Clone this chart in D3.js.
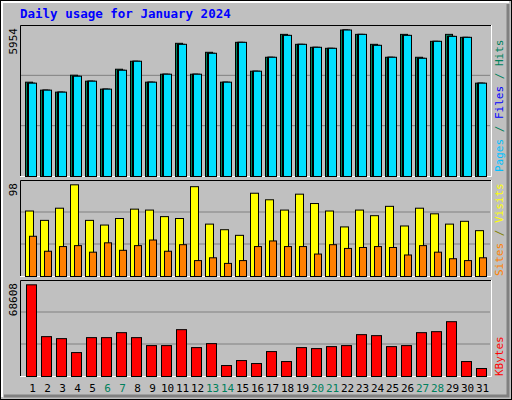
<!DOCTYPE html><html><head><meta charset="utf-8">
<script src="https://cdn.jsdelivr.net/npm/d3@7"></script>
<style>body{margin:0;background:#fff}</style></head><body>
<script>
const days=d3.range(1,32);
const weekends=[6,7,13,14,20,21,27,28];
const hits=[3834,3510,3429,4118,3875,3551,4361,4685,3834,4158,5414,4158,5049,3834,5454,4280,4847,5778,5373,5252,5211,5954,5778,5373,4847,5778,4847,5495,5778,5657,3794];
const files=[3794,3510,3429,4077,3875,3551,4320,4685,3834,4158,5373,4158,5009,3834,5454,4280,4847,5738,5373,5252,5211,5954,5778,5333,4847,5738,4806,5495,5697,5657,3794];
const pages=files.slice();
const visits=[70,60,73,98,60,55,62,72,71,64,62,96,56,50,44,89,82,71,88,78,70,53,71,65,75,54,73,67,56,59,49];
const sites=[43,27,32,33,26,36,28,33,39,27,34,17,20,14,17,32,38,32,32,24,34,30,31,32,31,23,33,26,19,17,20];
const kbytes=[68608,29830,28340,17900,29090,29090,32810,29090,23120,23120,35050,21630,24610,8200,11930,9700,18650,11190,21630,20880,22370,23120,31320,30580,22370,23120,32810,33560,41020,11190,5970];
const maxLabels=["5954","98","68608"];

const svg=d3.select("body").append("svg").attr("width",512).attr("height",400);
svg.append("rect").attr("x",0).attr("y",0).attr("width",512).attr("height",400).attr("fill","#c0c0c0");
svg.append("rect").attr("x",0.5).attr("y",0.5).attr("width",511).attr("height",399).attr("fill","none").attr("stroke","#000");
svg.append("path").attr("d","M2,397V2H509").attr("stroke","#fff").attr("stroke-width",2).attr("fill","none");
svg.append("path").attr("d","M4,396H508V4").attr("stroke","#808080").attr("stroke-width",3).attr("fill","none");
svg.append("text").attr("x",20).attr("y",18).text("Daily usage for January 2024")
 .attr("font-family","DejaVu Sans Mono").attr("font-weight","bold").attr("font-size",12.5).attr("fill","#0000ff");

const x=d3.scaleBand().domain(days).range([22,487]).paddingInner(0);
const mono="DejaVu Sans Mono";
function panel(top,bottom,max,label){
  svg.append("rect").attr("x",20).attr("y",top).attr("width",471).attr("height",bottom-top).attr("fill","#c0c0c0");
  const h=bottom-top;
  [1,2].forEach(k=>svg.append("line").attr("x1",21).attr("x2",490).attr("y1",top+h*k/3).attr("y2",top+h*k/3).attr("stroke","#808080"));
  svg.append("path").attr("d",`M20.5,${bottom}V${top+0.5}H491`).attr("stroke","#000").attr("fill","none");
  svg.append("path").attr("d",`M20,${bottom+0.5}H491.5V${top}`).attr("stroke","#fff").attr("fill","none");
  svg.append("text").attr("transform",`translate(17,${top+3}) rotate(-90)`).attr("text-anchor","end")
   .attr("font-family",mono).attr("font-size",11).text(label);
  return d3.scaleLinear().domain([0,max]).range([bottom,bottom-h*(top===25?0.97:0.955)]);
}
function bars(data,y,dx,w,color){
  svg.append("g").selectAll("rect").data(data).join("rect")
   .attr("x",(d,i)=>x(days[i])+dx+0.5).attr("y",d=>y(d)+0.5).attr("width",w).attr("height",d=>y(0)-y(d))
   .attr("fill",color).attr("stroke","#000");
}
const y1=panel(25,176,d3.max(hits),maxLabels[0]);
bars(hits,y1,3,7,"#00805c");
bars(pages,y1,5,7,"#0000ff");
bars(files,y1,6,8,"#00e0ff");
const y2=panel(180,276,d3.max(visits),maxLabels[1]);
bars(visits,y2,3,8,"#ffff00");
bars(sites,y2,7,7,"#ff8000");
const y3=panel(280,376,d3.max(kbytes),maxLabels[2]);
bars(kbytes,y3,4,10,"#ff0000");

svg.append("g").selectAll("text").data(days).join("text")
 .attr("x",d=>x(d)+x.bandwidth()/2+3).attr("y",392).attr("text-anchor","middle")
 .attr("font-family",mono).attr("font-size",11)
 .attr("fill",d=>weekends.includes(d)?"#00805c":"#000").text(d=>d);

function rlabel(cx,ybottom,parts){
  const t=svg.append("text").attr("transform",`translate(${cx},${ybottom}) rotate(-90)`)
   .attr("font-family",mono).attr("font-size",11);
  parts.forEach(p=>t.append("tspan").attr("fill",p[1]).text(p[0]));
}
rlabel(503,172,[["Pages","#00c0ff"],[" / ","#00805c"],["Files","#0000ff"],[" / ","#00805c"],["Hits","#00805c"]]);
rlabel(503,276,[["Sites","#ff8000"],[" / ","#808000"],["Visits","#ffff00"]]);
rlabel(503,376,[["KBytes","#ff0000"]]);
</script></body></html>
